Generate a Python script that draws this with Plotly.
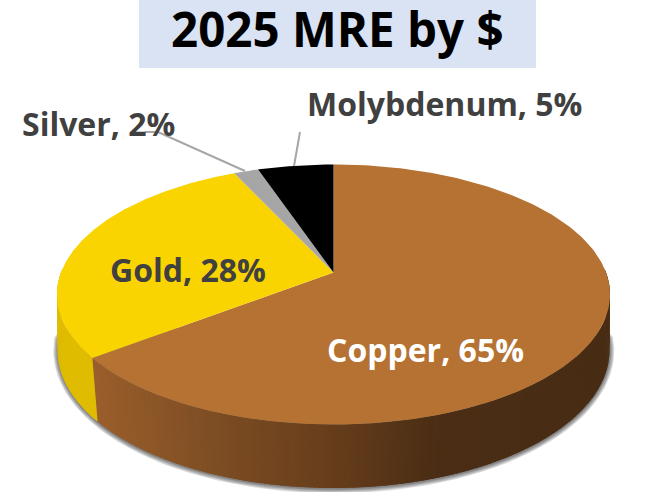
import numpy as np
import plotly.graph_objects as go

categories = ["Copper", "Gold", "Silver", "Molybdenum"]
values = [64.6, 28.5, 1.7, 5.2]
percent_labels = ["65%", "28%", "2%", "5%"]
top_colors = ["#B57232", "#FAD400", "#A6A6A6", "#000000"]
title_text = "2025 MRE by $"

W, H = 664, 492
FONT = "Open Sans"
TOP = dict(cx=333.5, cy=294.5, a=276.5, b=130.0, d=0.169)
BOT = dict(cx=333.5, cy=350.0, a=276.0, b=138.0, d=0.13)


def project(theta, g, grow=0.0):
    """Clockwise angle from 12 o'clock -> picture point on a perspective disc."""
    u, v = np.sin(theta), np.cos(theta)
    den = 1 + g["d"] * v
    xp = u * np.sqrt(1 - g["d"] ** 2) / den
    yp = (v + g["d"]) / den
    return g["cx"] + (g["a"] + grow) * xp, g["cy"] - (g["b"] + grow) * yp


def side_colour(x):
    xs = [93, 200, 333, 440, 610]
    r = np.interp(x, xs, [154, 128, 102, 74, 72])
    g = np.interp(x, xs, [94, 79, 61, 45, 44])
    b = np.interp(x, xs, [43, 36, 27, 20, 20])
    return f"rgb({r:.0f},{g:.0f},{b:.0f})"


fracs = np.array(values) / sum(values)
edges = np.concatenate([[0], np.cumsum(fracs)]) * 2 * np.pi
fig = go.Figure()


def poly(x, y, color):
    fig.add_trace(go.Scatter(
        x=list(x), y=list(y), mode="lines", fill="toself", fillcolor=color,
        line=dict(width=0), hoverinfo="skip", showlegend=False))


# soft shadow under the rim
arc = np.radians(np.linspace(88, 272, 200))
for grow in [4.5, 3.5, 2.5, 1.5, 0.7]:
    x, y = project(arc, BOT, grow)
    keep = y > 322 + grow * 3
    poly(x[keep] + 0.3, y[keep] + 0.8, "rgba(60,60,60,0.18)")

# rim: narrow overlapping strips, painted left to right along the arc
copper_end = edges[1]
step = np.radians(1.0)
starts = np.radians(np.arange(88, 272, 1.0))
for t0 in starts:
    mid = t0 + step / 2
    if mid < copper_end:
        tt = np.linspace(t0, min(t0 + step * 1.8, copper_end), 5)
        col = side_colour(project(np.array([mid]), TOP)[0][0])
    else:
        tt = np.linspace(max(t0 - step * 0.8, copper_end), t0 + step, 5)
        col = "#E0BC00"
    xa, ya = project(tt, TOP)
    xb, yb = project(tt[::-1], BOT)
    poly(np.r_[xa, xb], np.r_[ya, yb], col)

# top face
for i, c in enumerate(top_colors):
    th = np.linspace(edges[i], edges[i + 1], 240)
    x, y = project(th, TOP)
    cx, cy = TOP["cx"], TOP["cy"] - TOP["b"] * TOP["d"]
    poly(np.r_[cx, x, cx], np.r_[cy, y, cy], c)

# leader lines
leader_silver_x = [145, 158, 245]
leader_silver_y = [132, 132, 171]
leader_moly_x = [300, 294]
leader_moly_y = [132, 166]
for lx, ly in [(leader_silver_x, leader_silver_y), (leader_moly_x, leader_moly_y)]:
    fig.add_trace(go.Scatter(x=lx, y=ly, mode="lines", hoverinfo="skip", showlegend=False,
                             line=dict(color="#A6A6A6", width=2)))

label_pos = [(425.5, 349), (187.5, 269), (98.5, 123), (444.5, 103)]
label_cols = ["#FFFFFF", "#404040", "#404040", "#404040"]
annotations = [
    dict(x=px, y=py, xref="x", yref="y", text=f"{n}, {p}", showarrow=False,
         xanchor="center", yanchor="middle",
         font=dict(family=FONT, size=32, color=col, weight="bold"))
    for n, p, (px, py), col in zip(categories, percent_labels, label_pos, label_cols)
]
annotations.append(dict(x=337, y=28, xref="x", yref="y", text=title_text, showarrow=False,
                        xanchor="center", yanchor="middle",
                        font=dict(family=FONT, size=47.5, color="#000000", weight="bold")))

fig.update_layout(
    width=W, height=H, margin=dict(l=0, r=0, t=0, b=0),
    paper_bgcolor="#FFFFFF", plot_bgcolor="#FFFFFF", showlegend=False,
    xaxis=dict(range=[0, W], visible=False, fixedrange=True),
    yaxis=dict(range=[H, 0], visible=False, fixedrange=True),
    shapes=[dict(type="rect", xref="x", yref="y", x0=139, x1=536, y0=-1, y1=68,
                 fillcolor="#D9E3F3", line=dict(width=0), layer="below")],
    annotations=annotations,
)
fig.write_html("out.html", config={"displayModeBar": False},
               post_script="document.body.style.margin='0';document.documentElement.style.overflow='hidden';")
